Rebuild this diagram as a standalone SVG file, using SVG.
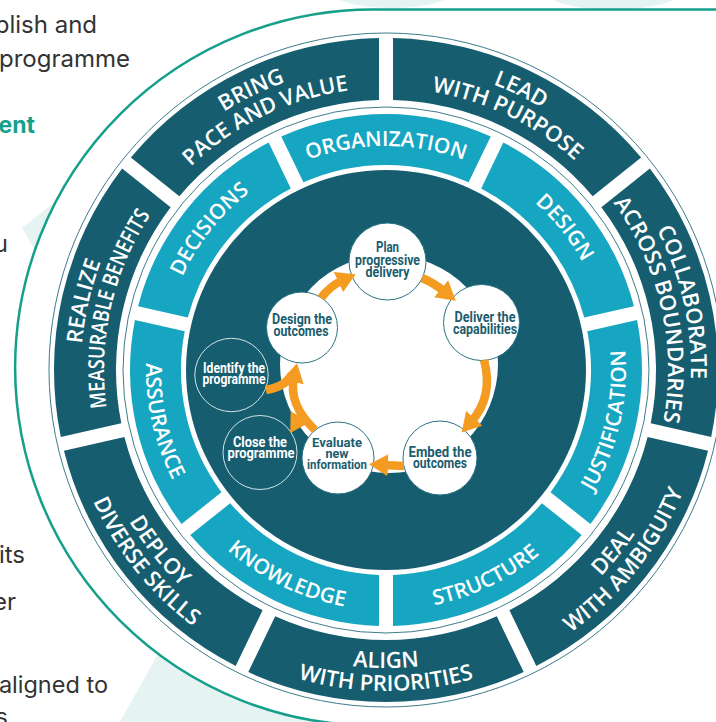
<svg xmlns="http://www.w3.org/2000/svg" width="716" height="722" viewBox="0 0 716 722">
<style>
.side{font-family:Inter,"Noto Sans",sans-serif;font-size:24px;fill:#333333;text-anchor:end;}
.acc{font-family:Inter,"Noto Sans",sans-serif;font-size:23px;font-weight:700;fill:#16a08b;text-anchor:end;}
.od{fill:#165e6f;}
.il{fill:#17a6c1;}
.ot{font-family:"Open Sans","Noto Sans",sans-serif;font-weight:600;font-size:22px;fill:#ffffff;text-anchor:middle;}
.it{font-family:"Open Sans","Noto Sans",sans-serif;font-weight:600;font-size:21px;fill:#ffffff;text-anchor:middle;}
.nc{fill:#ffffff;stroke:#2b7384;stroke-width:1;}
.oc{fill:none;stroke:#cfe3e7;stroke-width:1;}
.nt{font-family:Roboto,"Liberation Sans",sans-serif;font-weight:700;font-size:14.5px;fill:#1b5d6e;text-anchor:middle;}
.nw{font-family:Roboto,"Liberation Sans",sans-serif;font-weight:700;font-size:14.5px;fill:#ffffff;text-anchor:middle;}
.arr{fill:none;stroke:#f49b21;stroke-width:8.5;}
.thin{fill:none;stroke:#3d7c8b;stroke-width:1;}
.light{fill:#e6f3f3;}
</style>
<defs>
  <path id="segO" d="M 248.29,67.91 A 332 332 0 0 1 523.71,67.91 L 496.80,123.78 A 270 270 0 0 0 275.20,123.78 Z"/>
  <path id="segI" d="M 281.28,136.40 A 256 256 0 0 1 490.72,136.40 L 468.59,182.37 A 205 205 0 0 0 303.41,182.37 Z"/>
  <path id="t224" d="M 192.01,258 A 224 224 0 0 1 579.99,258"/>
  <path id="b240" d="M 178.15,490 A 240 240 0 0 0 593.85,490"/>
  <path id="t305" d="M 121.86,217.5 A 305 305 0 0 1 650.14,217.5"/>
  <path id="t282" d="M 141.78,229 A 282 282 0 0 1 630.22,229"/>
  <path id="b298" d="M 127.92,519 A 298 298 0 0 0 644.08,519"/>
  <path id="b321" d="M 108.01,530.5 A 321 321 0 0 0 663.99,530.5"/>
  <marker id="ah" markerUnits="userSpaceOnUse" markerWidth="20" markerHeight="22" refX="5" refY="11" orient="auto">
    <path d="M0,0 L19,11 L0,22 Z" fill="#f49b21"/>
  </marker>
</defs>

<g id="background">
  <ellipse class="light" cx="392" cy="-12" rx="65" ry="20"/>
  <ellipse class="light" cx="613" cy="-15" rx="75" ry="25"/>
  <path class="light" d="M 22,228 L 60,198 L 42,262 Z"/>
  <path class="light" d="M 120,722 L 158,654 L 420,654 L 420,722 Z"/>
  <circle cx="373" cy="367.5" r="358" fill="#ffffff"/>
  <path d="M 716,9.5 L 373,9.5 A 358 358 0 0 0 373,725.5" fill="none" stroke="#16a08b" stroke-width="2.5"/>
</g>

<g id="side-text">
  <text class="side" x="97" y="33">blish and</text>
  <text class="side" x="130" y="67">programme</text>
  <text class="acc" x="35" y="133">ent</text>
  <text class="side" x="8" y="252">u</text>
  <text class="side" x="25" y="563">its</text>
  <text class="side" x="16" y="610">er</text>
  <text class="side" x="108" y="693" style="font-size:23.5px">aligned to</text>
  <text class="side" x="8" y="725">s</text>
</g>

<g id="rings">
  <circle class="thin" cx="386" cy="370" r="337"/>
  <circle class="thin" cx="386" cy="370" r="263"/>
  <circle cx="386" cy="370" r="200" fill="#165e6f"/>
</g>

<g id="seg-bring">
  <use href="#segO" class="od" transform="rotate(-25.714 386 370)"/>
  <text class="ot" transform="rotate(-25.714 386 370)"><textPath href="#t305" startOffset="50%">BRING</textPath></text>
  <text class="ot" transform="rotate(-25.714 386 370)"><textPath href="#t282" startOffset="50%" textLength="178" lengthAdjust="spacingAndGlyphs">PACE AND VALUE</textPath></text>
</g>
<g id="seg-lead">
  <use href="#segO" class="od" transform="rotate(25.714 386 370)"/>
  <text class="ot" transform="rotate(25.714 386 370)"><textPath href="#t305" startOffset="50%">LEAD</textPath></text>
  <text class="ot" transform="rotate(25.714 386 370)"><textPath href="#t282" startOffset="50%">WITH PURPOSE</textPath></text>
</g>
<g id="seg-collaborate">
  <use href="#segO" class="od" transform="rotate(77.143 386 370)"/>
  <text class="ot" transform="rotate(77.143 386 370)"><textPath href="#t305" startOffset="50%">COLLABORATE</textPath></text>
  <text class="ot" transform="rotate(77.143 386 370)"><textPath href="#t282" startOffset="50%">ACROSS BOUNDARIES</textPath></text>
</g>
<g id="seg-deal">
  <use href="#segO" class="od" transform="rotate(128.571 386 370)"/>
  <text class="ot" transform="rotate(-51.429 386 370)"><textPath href="#b298" startOffset="50%">DEAL</textPath></text>
  <text class="ot" transform="rotate(-51.429 386 370)"><textPath href="#b321" startOffset="50%">WITH AMBIGUITY</textPath></text>
</g>
<g id="seg-align">
  <use href="#segO" class="od" transform="rotate(180 386 370)"/>
  <text class="ot"><textPath href="#b298" startOffset="50%">ALIGN</textPath></text>
  <text class="ot"><textPath href="#b321" startOffset="50%">WITH PRIORITIES</textPath></text>
</g>
<g id="seg-deploy">
  <use href="#segO" class="od" transform="rotate(231.429 386 370)"/>
  <text class="ot" transform="rotate(51.429 386 370)"><textPath href="#b298" startOffset="50%">DEPLOY</textPath></text>
  <text class="ot" transform="rotate(51.429 386 370)"><textPath href="#b321" startOffset="50%">DIVERSE SKILLS</textPath></text>
</g>
<g id="seg-realize">
  <use href="#segO" class="od" transform="rotate(282.857 386 370)"/>
  <text class="ot" transform="rotate(282.857 386 370)"><textPath href="#t305" startOffset="50%">REALIZE</textPath></text>
  <text class="ot" transform="rotate(282.857 386 370)"><textPath href="#t282" startOffset="50%" textLength="202" lengthAdjust="spacingAndGlyphs">MEASURABLE BENEFITS</textPath></text>
</g>

<g id="seg-organization">
  <use href="#segI" class="il"/>
  <text class="it"><textPath href="#t224" startOffset="50%">ORGANIZATION</textPath></text>
</g>
<g id="seg-design">
  <use href="#segI" class="il" transform="rotate(51.429 386 370)"/>
  <text class="it" transform="rotate(51.429 386 370)"><textPath href="#t224" startOffset="50%">DESIGN</textPath></text>
</g>
<g id="seg-justification">
  <use href="#segI" class="il" transform="rotate(102.857 386 370)"/>
  <text class="it" transform="rotate(-77.143 386 370)"><textPath href="#b240" startOffset="50%">JUSTIFICATION</textPath></text>
</g>
<g id="seg-structure">
  <use href="#segI" class="il" transform="rotate(154.286 386 370)"/>
  <text class="it" transform="rotate(-25.714 386 370)"><textPath href="#b240" startOffset="50%">STRUCTURE</textPath></text>
</g>
<g id="seg-knowledge">
  <use href="#segI" class="il" transform="rotate(205.714 386 370)"/>
  <text class="it" transform="rotate(25.714 386 370)"><textPath href="#b240" startOffset="50%">KNOWLEDGE</textPath></text>
</g>
<g id="seg-assurance">
  <use href="#segI" class="il" transform="rotate(257.143 386 370)"/>
  <text class="it" transform="rotate(77.143 386 370)"><textPath href="#b240" startOffset="50%">ASSURANCE</textPath></text>
</g>
<g id="seg-decisions">
  <use href="#segI" class="il" transform="rotate(308.571 386 370)"/>
  <text class="it" transform="rotate(308.571 386 370)"><textPath href="#t224" startOffset="50%">DECISIONS</textPath></text>
</g>

<g id="loop-base">
  <circle cx="389" cy="364" r="109" fill="#ffffff"/>
</g>

<g id="node-plan">
  <circle class="nc" cx="387.5" cy="261.5" r="38.5"/>
  <text class="nt"><tspan x="387.5" y="251.5" textLength="23" lengthAdjust="spacingAndGlyphs">Plan</tspan><tspan x="387.5" y="264.5" textLength="65" lengthAdjust="spacingAndGlyphs">progressive</tspan><tspan x="387.5" y="277" textLength="44" lengthAdjust="spacingAndGlyphs">delivery</tspan></text>
</g>
<g id="node-deliver">
  <circle class="nc" cx="481.5" cy="322.5" r="38"/>
  <text class="nt"><tspan x="485" y="321.5" textLength="61" lengthAdjust="spacingAndGlyphs">Deliver the</tspan><tspan x="485" y="333.5" textLength="64" lengthAdjust="spacingAndGlyphs">capabilities</tspan></text>
</g>
<g id="node-embed">
  <circle class="nc" cx="440" cy="458" r="37"/>
  <text class="nt"><tspan x="440" y="456.5" textLength="63" lengthAdjust="spacingAndGlyphs">Embed the</tspan><tspan x="440" y="468" textLength="54" lengthAdjust="spacingAndGlyphs">outcomes</tspan></text>
</g>
<g id="node-evaluate">
  <circle class="nc" cx="338" cy="458" r="36"/>
  <text class="nt" style="font-size:13.5px"><tspan x="337" y="446.5" textLength="50" lengthAdjust="spacingAndGlyphs">Evaluate</tspan><tspan x="337" y="457.5" textLength="23" lengthAdjust="spacingAndGlyphs">new</tspan><tspan x="337" y="468.5" textLength="60" lengthAdjust="spacingAndGlyphs">information</tspan></text>
</g>
<g id="node-design">
  <circle class="nc" cx="302" cy="327.5" r="35.5"/>
  <text class="nt"><tspan x="302" y="324" textLength="60" lengthAdjust="spacingAndGlyphs">Design the</tspan><tspan x="301" y="335.5" textLength="55" lengthAdjust="spacingAndGlyphs">outcomes</tspan></text>
</g>
<g id="node-identify">
  <circle class="oc" cx="231.5" cy="375" r="36.7"/>
  <text class="nw"><tspan x="234" y="372.5" textLength="62" lengthAdjust="spacingAndGlyphs">Identify the</tspan><tspan x="234" y="384" textLength="63" lengthAdjust="spacingAndGlyphs">programme</tspan></text>
</g>
<g id="node-close">
  <circle class="oc" cx="260" cy="452.5" r="37"/>
  <text class="nw"><tspan x="260" y="446.5" textLength="54" lengthAdjust="spacingAndGlyphs">Close the</tspan><tspan x="261" y="458" textLength="67" lengthAdjust="spacingAndGlyphs">programme</tspan></text>
</g>

<g id="connectors">
  <path class="arr" d="M 321,298 Q 330,286 343,280" marker-end="url(#ah)"/>
  <path class="arr" d="M 422,278 Q 434,283 445,292" marker-end="url(#ah)"/>
  <path class="arr" d="M 484,360 C 490,382 487,404 471,422" marker-end="url(#ah)"/>
  <path class="arr" d="M 404,466 L 383,465" marker-end="url(#ah)"/>
  <path class="arr" d="M 315,430 C 296,412 290,395 294,377" marker-end="url(#ah)"/>
  <path class="arr" d="M 303,412 L 297.5,421" marker-end="url(#ah)"/>
  <path class="arr" d="M 266,390 Q 287,386 292,374"/>
</g>
</svg>
